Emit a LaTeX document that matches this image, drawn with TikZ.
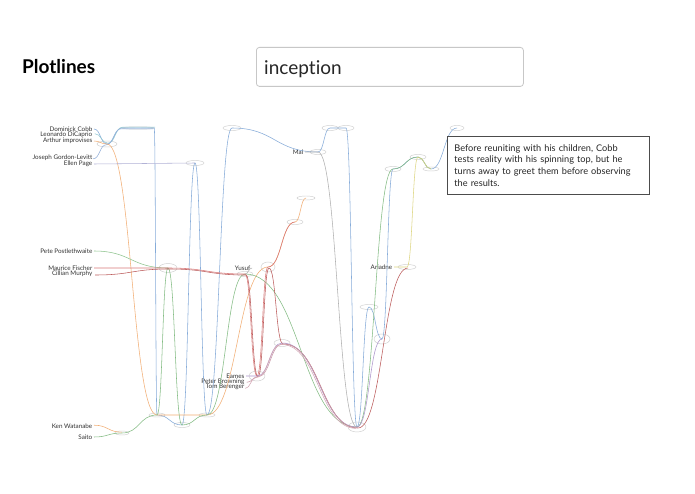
\documentclass[tikz,border=0pt]{standalone}
\usepackage{fontspec}
\setmainfont{Lato}[Ligatures=NoCommon]
\usetikzlibrary{shapes.geometric,calc}

\definecolor{cobbblue}{HTML}{86ACD9}
\definecolor{leotea}{HTML}{92C8D2}
\definecolor{jglblue}{HTML}{94B0DA}
\definecolor{ellenlav}{HTML}{B2B2D6}
\definecolor{arthurorg}{HTML}{F2AE74}
\definecolor{saitogrn}{HTML}{84BC84}
\definecolor{petegrn}{HTML}{8EC48E}
\definecolor{fischred}{HTML}{D97878}
\definecolor{cillred}{HTML}{BC5C5C}
\definecolor{eamespur}{HTML}{AE96CC}
\definecolor{browmauve}{HTML}{C998A6}
\definecolor{berpink}{HTML}{D4A8B6}
\definecolor{malgray}{HTML}{B0B0B0}
\definecolor{ariyel}{HTML}{DED784}
\definecolor{scenegray}{HTML}{CFCFCF}

\tikzset{
  scene/.style={draw=scenegray, ellipse, inner sep=0pt, line width=0.45pt,
    minimum width=#1},
  scene/.default=16pt,
  who/.style={font=\fontsize{6.3}{7}\selectfont, text=black!80, anchor=east,
    inner xsep=1.5pt, inner ysep=0pt},
  story/.style={line width=0.55pt,
    to path={let \p1=(\tikztostart), \p2=(\tikztotarget) in
      .. controls ({(\x1+\x2)/2},\y1) and ({(\x1+\x2)/2},\y2) .. (\tikztotarget)}},
}

\begin{document}
\begin{tikzpicture}[x=1pt,y=-1pt]
\useasboundingbox[fill=white] (0,0) rectangle (695,494);

% header
\node[font=\fontsize{19}{22}\selectfont\bfseries, anchor=base west, inner sep=0pt] (title) at (22,74) {Plotlines};
\node[draw=black!22, rounded corners=3pt, line width=0.8pt, minimum width=267pt, minimum height=39pt,
  anchor=north west, inner sep=0pt] (search) at (256,47) {};
\node[font=\fontsize{19}{22}\selectfont, text=black!85, anchor=base west, inner sep=0pt] (query) at (264,75) {incep\kern0pt tion};

% scenes
\node[scene=20pt, minimum height=6pt] (A) at (107,144) {};
\node[scene=32pt, minimum height=2.5pt] (B) at (138,128) {};
\node[scene=18pt, minimum height=5pt] (C) at (195,163) {};
\node[scene=18pt, minimum height=5pt] (D) at (232,128) {};
\node[scene, minimum height=5pt] (E1) at (330,128) {};
\node[scene, minimum height=5pt] (E2) at (346,128) {};
\node[scene, minimum height=5pt] (Mal) at (318,152) {};
\node[scene=18pt, minimum height=9pt] (F) at (168,268) {};
\node[scene, minimum height=5pt] (G) at (245,274) {};
\node[scene=14pt, minimum height=10pt] (H) at (268,267) {};
\node[scene, minimum height=5pt] (I) at (295,222) {};
\node[scene=18pt, minimum height=4pt] (J) at (306,198) {};
\node[scene, minimum height=7pt] (K) at (282,343) {};
\node[scene, minimum height=10pt] (L) at (257,376) {};
\node[scene, minimum height=4pt] (M1) at (157,415) {};
\node[scene, minimum height=5pt] (M2) at (182,425) {};
\node[scene, minimum height=4pt] (M3) at (207,415) {};
\node[scene=14pt, minimum height=4pt] (N) at (122,433) {};
\node[scene=18pt, minimum height=10pt] (P) at (357,427) {};
\node[scene=18pt, minimum height=5pt] (Q) at (369,307) {};
\node[scene, minimum height=10pt] (R) at (382,339) {};
\node[scene=18pt, minimum height=5pt] (Ar) at (407,267) {};
\node[scene, minimum height=5pt] (T) at (393,169) {};
\node[scene, minimum height=5pt] (U) at (418,157) {};
\node[scene, minimum height=4pt] (V) at (431,169) {};
\node[scene=14pt, minimum height=5pt] (W) at (457,128) {};

% names
\node[who] (lcobb) at (94,129) {Dominick Cobb};
\node[who] (lleo) at (94,134.5) {Leonardo DiCaprio};
\node[who] (larthur) at (94,141) {Arthur improvises};
\node[who] (ljgl) at (94,158) {Joseph Gordon-Levitt};
\node[who] (lellen) at (94,164) {Ellen Page};
\node[who] (lpete) at (94,251) {Pete Postlethwaite};
\node[who] (lfisch) at (94,268) {Maurice Fischer};
\node[who] (lcill) at (94,274) {Cillian Murphy};
\node[who] (lken) at (94,426) {Ken Watanabe};
\node[who] (lsaito) at (94,437) {Saito};
\node[who] (lmal) at (305,152) {Mal};
\node[who] (lyusuf) at (252,268) {Yusuf};
\node[who] (leames) at (246,376) {Eames};
\node[who] (lbrown) at (246,381.5) {Peter Browning};
\node[who] (lber) at (246,387) {Tom Berenger};
\node[who] (lari) at (394,267) {Ariadne};

% plotlines
\draw[story, cobbblue] (lcobb.east) to (A.center) to (B.west) to (B.east) to (M1.center)
  to (M2.center) to (C.center) to (M3.center) to (D.center) to (Mal.center) to (E1.center)
  to (E2.center) to (P.center) to (Q.center) to (R.center) to (T.center) to (U.center)
  to (V.center) to (W.center);
\draw[story, leotea, transform canvas={shift={(0.8pt,0.8pt)}}] (lleo.east) to (A.center) to (B.west) to (B.east);
\draw[story, jglblue, transform canvas={shift={(-0.8pt,-0.8pt)}}] (ljgl.east) to (A.center) to (B.west) to (B.east);
\draw[story, arthurorg] (larthur.east) to (A.center) to (M1.center) to (M3.center) to (H.center)
  to (I.center) to (J.center);
\draw[story, ellenlav] (lellen.east) to (C.center);
\draw[story, petegrn] (lpete.east) to (F.center);
\draw[story, saitogrn] (lsaito.east) to (N.center) to (M1.center) to (F.center) to (M2.center)
  to (M3.center) to (G.center) to (P.center) to (T.center) to (U.center) to (V.center);
\draw[story, arthurorg, transform canvas={yshift=0.8pt}] (lken.east) to (N.center);
\draw[story, fischred] (lfisch.east) to (F.center) to (G.center) to (L.center) to (H.center)
  to (I.center);
\draw[story, cillred, transform canvas={shift={(1pt,-1pt)}}] (lcill.east) to (F.center)
  to (G.center) to (L.center) to (H.center) to (K.center) to (P.center) to (Ar.center);
\draw[story, malgray] (lmal.east) to (Mal.center) to (P.center);
\draw[story, malgray] (lyusuf.east) to (G.center);
\draw[story, eamespur] (leames.east) to (L.center) to (K.center) to (P.center) to (R.center);
\draw[story, browmauve, transform canvas={shift={(0.8pt,-0.8pt)}}] (lbrown.east) to (L.center)
  to (K.center) to (P.center);
\draw[story, berpink, transform canvas={shift={(-0.8pt,-1.4pt)}}] (lber.east) to (L.center)
  to (K.center) to (P.center);
\draw[story, ariyel] (lari.east) to (Ar.center) to (U.center) to (V.center);

% tooltip
\node[draw=black!70, fill=white, line width=0.8pt, anchor=north west, minimum width=202pt,
  minimum height=58pt, text width=188pt, inner xsep=7pt, inner ysep=0pt, align=left,
  font=\fontsize{9.2}{11.7}\selectfont, text=black!85] (note) at (447,136)
  {Before reuniting with his children, Cobb\\ tests reality with his spinning top, but he\\
   turns away to greet them before observing\\ the results.};
\end{tikzpicture}
\end{document}
